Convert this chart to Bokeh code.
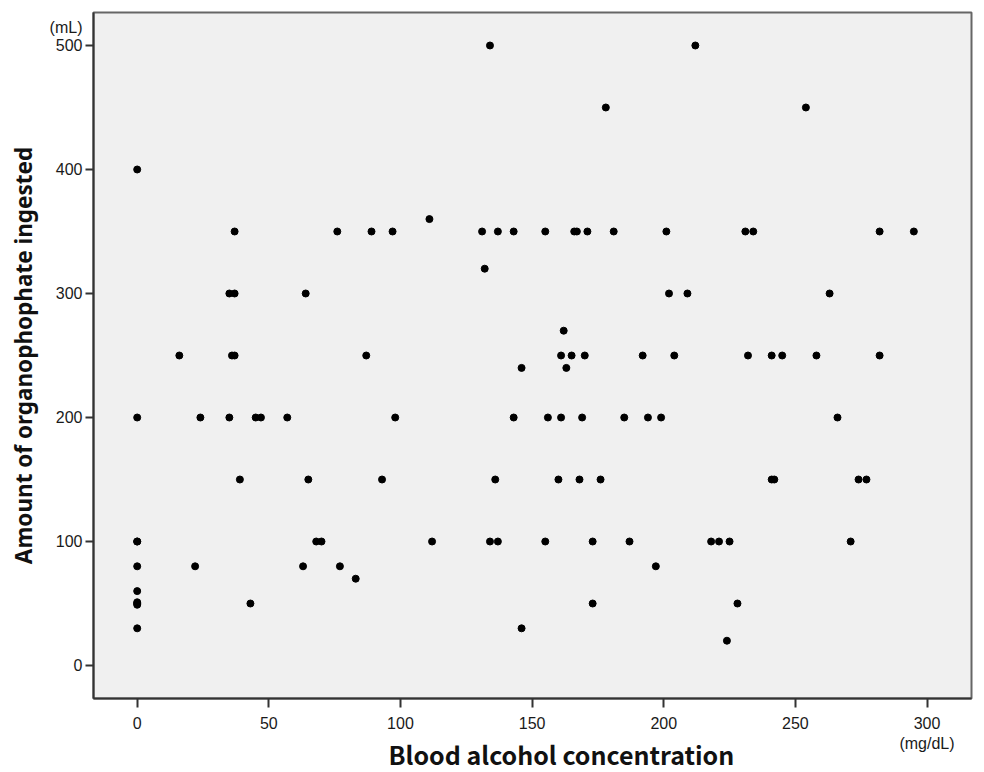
from bokeh.plotting import figure
from bokeh.models import Range1d, FixedTicker, Title
from bokeh.embed import file_html
from bokeh.resources import INLINE

# Blood alcohol concentration (mg/dL) and amount of organophosphate ingested (mL)
blood_alcohol = [
    0,                                   # 400
    134, 212,                            # 500
    178, 254,                            # 450
    111,                                 # 360
    37, 76, 89, 97, 131, 137, 143, 155, 166, 167, 171, 181, 201, 231, 234, 282, 295,  # 350
    132,                                 # 320
    35, 37, 64, 202, 209, 263,           # 300
    162,                                 # 270
    16, 36, 37, 87, 161, 165, 170, 192, 204, 232, 241, 245, 258, 282,  # 250
    146, 163,                            # 240
    0, 24, 35, 45, 47, 57, 98, 143, 156, 161, 169, 185, 194, 199, 266,  # 200
    39, 65, 93, 136, 160, 168, 176, 241, 242, 274, 277,                 # 150
    0, 0, 68, 70, 112, 134, 137, 155, 173, 187, 218, 221, 225, 271,     # 100
    0, 22, 63, 77, 197,                  # 80
    83,                                  # 70
    0,                                   # 60
    0, 0, 0, 43, 173, 228,               # 50
    0, 146,                              # 30
    224,                                 # 20
]
organophosphate_ml = [
    400,
    500, 500,
    450, 450,
    360,
    350, 350, 350, 350, 350, 350, 350, 350, 350, 350, 350, 350, 350, 350, 350, 350, 350,
    320,
    300, 300, 300, 300, 300, 300,
    270,
    250, 250, 250, 250, 250, 250, 250, 250, 250, 250, 250, 250, 250, 250,
    240, 240,
    200, 200, 200, 200, 200, 200, 200, 200, 200, 200, 200, 200, 200, 200, 200,
    150, 150, 150, 150, 150, 150, 150, 150, 150, 150, 150,
    100, 100, 100, 100, 100, 100, 100, 100, 100, 100, 100, 100, 100, 100,
    80, 80, 80, 80, 80,
    70,
    60,
    49, 50, 51, 50, 50, 50,
    30, 30,
    20,
]

x_ticks = [0, 50, 100, 150, 200, 250, 300]
y_ticks = [0, 100, 200, 300, 400, 500]
x_title = "Blood alcohol concentration"
y_title = "Amount of organophophate ingested"
x_unit = "(mg/dL)"
y_unit = "(mL)"
y_unit_pos = 514.5

p = figure(width=984, height=772, output_backend="svg", toolbar_location=None,
           x_range=Range1d(-16.6, 316.9), y_range=Range1d(-26.6, 526.6),
           min_border_left=93, min_border_top=12, min_border_right=13,
           min_border_bottom=74)

p.background_fill_color = "#f0f0f0"
p.border_fill_color = "white"
p.outline_line_color = "#666666"
p.outline_line_width = 2
p.grid.visible = False

# major ticks carry the labels (plus the unit labels); minor ticks draw the marks
p.xaxis.ticker = FixedTicker(ticks=x_ticks, minor_ticks=x_ticks)
p.yaxis.ticker = FixedTicker(ticks=y_ticks + [y_unit_pos], minor_ticks=y_ticks)
p.xaxis.major_label_overrides = {300: "300\n" + x_unit}
p.yaxis.major_label_overrides = {y_unit_pos: y_unit}

for ax in (p.xaxis, p.yaxis):
    ax.major_tick_line_color = None
    ax.minor_tick_in = 0
    ax.minor_tick_line_color = "#333333"
    ax.minor_tick_line_width = 2
    ax.axis_line_color = "#333333"
    ax.axis_line_width = 2
    ax.major_label_text_font = "Liberation Sans"
    ax.major_label_text_font_size = "16px"
    ax.major_label_text_color = "#1a1a1a"
    ax.axis_label_text_font_style = "bold"
    ax.axis_label_text_color = "#111111"

p.xaxis.minor_tick_out = 9
p.xaxis.major_tick_out = 9
p.xaxis.major_label_standoff = 7

p.yaxis.minor_tick_out = 8
p.yaxis.major_tick_out = 8
p.yaxis.major_label_standoff = 3
p.yaxis.axis_label = y_title
p.yaxis.axis_label_text_font = "Noto Sans"
p.yaxis.axis_label_text_font_size = "22.5px"
p.yaxis.axis_label_standoff = 8

p.add_layout(Title(text=x_title, align="left", offset=295, standoff=-38,
                   vertical_align="top",
                   text_font="Noto Sans CJK KR", text_font_style="bold",
                   text_font_size="25px", text_color="#111111"), "below")

p.scatter(blood_alcohol, organophosphate_ml, size=7, color="black")

open("out.html", "w").write(file_html(p, INLINE))
